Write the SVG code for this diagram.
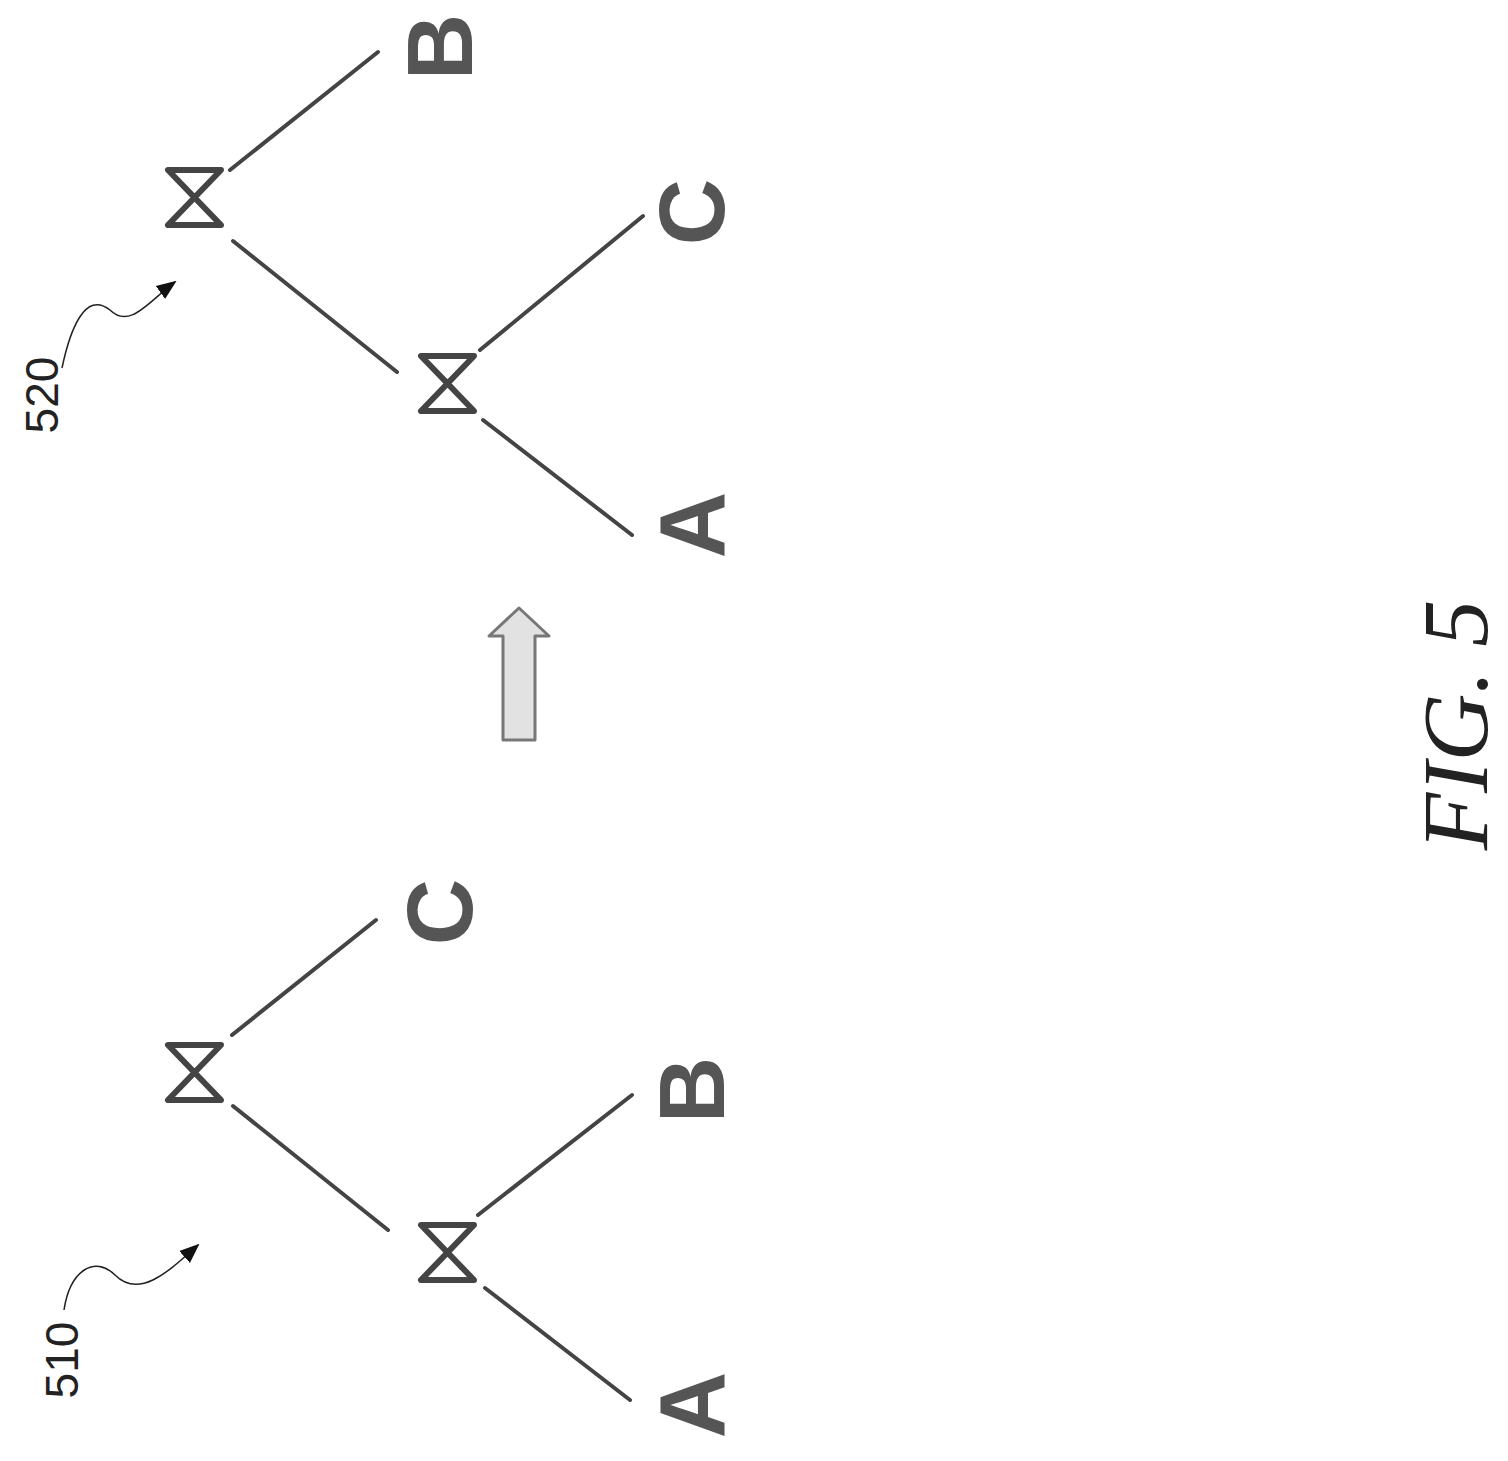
<svg xmlns="http://www.w3.org/2000/svg" width="1508" height="1461" viewBox="0 0 1508 1461">
<defs>
<style>
.e{stroke:#444;stroke-width:4;fill:none;stroke-linecap:round}
.j{stroke:#444;stroke-width:6;fill:none;stroke-linejoin:round}
.t{font-family:"Liberation Sans",Arial,sans-serif;font-size:92px;font-weight:bold;fill:#555;text-anchor:middle;dominant-baseline:central}
.n{font-family:"Liberation Sans",Arial,sans-serif;font-size:46px;fill:#222;text-anchor:middle;dominant-baseline:central}
.l{stroke:#222;stroke-width:1.5;fill:none}
</style>
<marker id="ah2" viewBox="0 0 10 10" refX="9" refY="5" markerWidth="20" markerHeight="20" markerUnits="userSpaceOnUse" orient="auto"><path d="M0,1L10,5L0,9Z" fill="#111"/></marker>
</defs>
<rect width="1508" height="1461" fill="#fff"/>
<g id="tree520">
<path id="j520a" class="j" d="M168,170H221L168,225H221Z"/>
<path id="j520b" class="j" d="M421,356H474L421,411H474Z"/>
<text id="B1" class="t" transform="rotate(-90 440 47)" x="440" y="47">B</text>
<text id="C1" class="t" transform="rotate(-90 692 212)" x="692" y="212">C</text>
<text id="A1" class="t" transform="rotate(-90 692 525)" x="692" y="525">A</text>
</g>
<g id="tree510">
<path id="j510a" class="j" d="M168,1045H221L168,1100H221Z"/>
<path id="j510b" class="j" d="M421,1225H474L421,1280H474Z"/>
<text id="C2" class="t" transform="rotate(-90 440 912)" x="440" y="912">C</text>
<text id="B2" class="t" transform="rotate(-90 692 1090)" x="692" y="1090">B</text>
<text id="A2" class="t" transform="rotate(-90 692 1405)" x="692" y="1405">A</text>
</g>
<g id="connectors">
<line class="e" x1="230" y1="170" x2="378" y2="52"/>
<line class="e" x1="233" y1="241" x2="397" y2="372"/>
<line class="e" x1="480" y1="350" x2="643" y2="216"/>
<line class="e" x1="483" y1="420" x2="632" y2="535"/>
<line class="e" x1="232" y1="1035" x2="376" y2="920"/>
<line class="e" x1="233" y1="1106" x2="388" y2="1230"/>
<line class="e" x1="478" y1="1215" x2="632" y2="1095"/>
<line class="e" x1="485" y1="1288" x2="630" y2="1400"/>
</g>
<g id="labels">
<text class="n" transform="rotate(-90 42 395)" x="42" y="395">520</text>
<path class="l" d="M62,368C70,330 85,290 110,310C130,330 150,300 175,282" marker-end="url(#ah2)"/>
<text class="n" transform="rotate(-90 62 1360)" x="62" y="1360">510</text>
<path class="l" d="M64,1310C70,1270 95,1255 115,1275C140,1300 170,1270 198,1245" marker-end="url(#ah2)"/>
</g>
<g id="arrow">
<path d="M503,740V636H489L519,608L549,636H535V740Z" fill="#e2e2e2" stroke="#777" stroke-width="3" stroke-linejoin="round"/>
</g>
<text id="fig" transform="rotate(-90 1455 725)" x="1455" y="725" font-family="'Liberation Serif','Times New Roman',serif" font-style="italic" font-size="94" fill="#222" text-anchor="middle" dominant-baseline="central">FIG. 5</text>
</svg>
